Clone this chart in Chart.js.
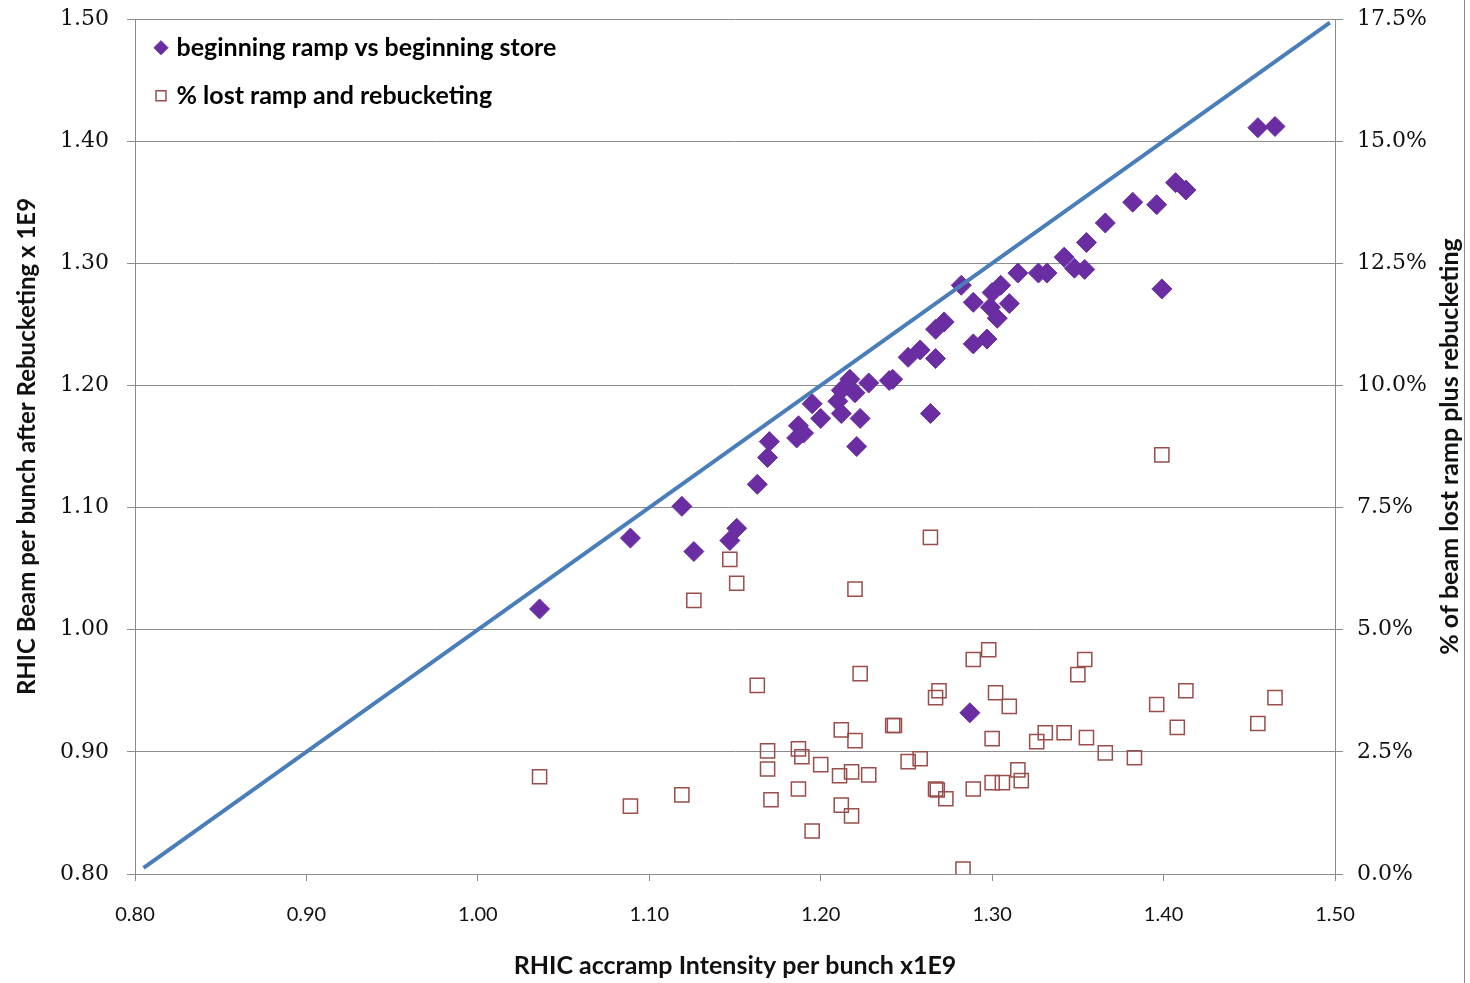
<!DOCTYPE html>
<html>
<head>
<meta charset="utf-8">
<script src="https://cdn.jsdelivr.net/npm/chart.js@4.4.1/dist/chart.umd.min.js"></script>
<style>
  html, body { margin: 0; padding: 0; background: #fff; }
  #wrap { position: relative; width: 1470px; height: 983px; }
  #edge { position: absolute; left: 1464px; top: 0; width: 1px; height: 983px; background: #8c8c8c; }
</style>
</head>
<body>
<div id="wrap"><canvas id="chart"></canvas><div id="edge"></div></div>
<script>
// beginning ramp (x) vs beginning store (y), x1E9
const rampX = [1.036, 1.089, 1.119, 1.126, 1.147, 1.151, 1.163, 1.169, 1.170, 1.186, 1.187, 1.190, 1.195, 1.200, 1.210,
  1.212, 1.212, 1.217, 1.220, 1.221, 1.223, 1.228, 1.240, 1.242, 1.251, 1.258, 1.264, 1.267, 1.267, 1.272, 1.282,
  1.289, 1.289, 1.297, 1.299, 1.300, 1.305, 1.303, 1.310, 1.315, 1.327, 1.332, 1.342, 1.348, 1.354, 1.355, 1.366,
  1.382, 1.396, 1.399, 1.407, 1.413, 1.455, 1.465, 1.287];
const storeY = [1.017, 1.075, 1.101, 1.064, 1.073, 1.083, 1.119, 1.141, 1.154, 1.157, 1.167, 1.161, 1.185, 1.173, 1.187,
  1.196, 1.177, 1.205, 1.194, 1.150, 1.173, 1.202, 1.204, 1.205, 1.223, 1.229, 1.177, 1.222, 1.246, 1.252, 1.282,
  1.234, 1.268, 1.238, 1.264, 1.276, 1.282, 1.255, 1.267, 1.292, 1.292, 1.292, 1.305, 1.296, 1.295, 1.317, 1.333,
  1.350, 1.348, 1.279, 1.366, 1.360, 1.411, 1.412, 0.932];

// % lost ramp and rebucketing (right axis)
const lossX = [1.036, 1.089, 1.119, 1.126, 1.147, 1.151, 1.163, 1.169, 1.169, 1.171, 1.187, 1.189, 1.187, 1.195, 1.200,
  1.211, 1.212, 1.212, 1.218, 1.218, 1.220, 1.220, 1.223, 1.228, 1.242, 1.243, 1.251, 1.258, 1.264, 1.267, 1.269,
  1.267, 1.268, 1.273, 1.283, 1.289, 1.289, 1.298, 1.300, 1.300, 1.302, 1.306, 1.310, 1.315, 1.317, 1.326, 1.331,
  1.342, 1.350, 1.354, 1.355, 1.366, 1.383, 1.396, 1.399, 1.408, 1.413, 1.455, 1.465];
const lossPct = [1.99, 1.39, 1.62, 5.60, 6.44, 5.95, 3.86, 2.52, 2.15, 1.52, 2.56, 2.40, 1.74, 0.88, 2.24,
  2.01, 2.95, 1.41, 1.19, 2.09, 2.73, 5.83, 4.10, 2.03, 3.04, 3.04, 2.30, 2.36, 6.89, 3.61, 3.75,
  1.74, 1.72, 1.54, 0.10, 4.39, 1.74, 4.59, 2.77, 1.87, 3.71, 1.87, 3.43, 2.13, 1.91, 2.71, 2.89,
  2.89, 4.08, 4.39, 2.79, 2.48, 2.38, 3.47, 8.58, 3.00, 3.75, 3.08, 3.61];

// y = x reference line
const unityLine = [0.805, 1.497];

const COLOR_TEXT = "#111";
const COLOR_GRID = "#8c8c8c";
const TITLE_FONT = { family: "Lato, sans-serif", size: 25, weight: "bold" };
const SERIF_TICKS = { family: "DejaVu Serif, serif", size: 22 };

// fixed axis boxes so the plot sits where it does in the original
function fitY(s) {
  s.width = 135;
  s.paddingTop = 0;
  s.paddingBottom = 0;
}

const rightTitle = {
  id: "rightTitle",
  afterDraw(chart, args, opts) {
    const { ctx, chartArea } = chart;
    const scale = chart.scales.y2;
    ctx.save();
    ctx.translate(scale.right - 20, (chartArea.top + chartArea.bottom) / 2);
    ctx.rotate(-Math.PI / 2);
    ctx.font = "bold 25px Lato, sans-serif";
    ctx.fillStyle = COLOR_TEXT;
    ctx.textAlign = "center";
    ctx.textBaseline = "middle";
    ctx.fillText(opts.text, 0, 0);
    ctx.restore();
  },
};

new Chart(document.getElementById("chart"), {
  type: "scatter",
  data: {
    datasets: [
      {
        label: "beginning ramp vs beginning store",
        data: rampX.map((x, i) => ({ x, y: storeY[i] })),
        yAxisID: "y",
        pointStyle: "rectRot",
        pointRadius: 10,
        backgroundColor: "#6a2ea2",
        borderColor: "#6a2ea2",
        borderWidth: 1,
        order: 1,
      },
      {
        label: "% lost ramp and rebucketing",
        data: lossX.map((x, i) => ({ x, y: lossPct[i] })),
        yAxisID: "y2",
        pointStyle: "rect",
        pointRadius: 10,
        backgroundColor: "rgba(0,0,0,0)",
        borderColor: "#9a4d4a",
        borderWidth: 1.5,
        order: 2,
      },
      {
        label: "unity",
        data: unityLine.map((v) => ({ x: v, y: v })),
        yAxisID: "y",
        showLine: true,
        pointRadius: 0,
        borderColor: "#4a7ebb",
        borderWidth: 4,
        order: 0,
      },
    ],
  },
  options: {
    responsive: true,
    maintainAspectRatio: false,
    animation: false,
    layout: { padding: { top: 19, left: 0, right: 0, bottom: 0 } },
    scales: {
      x: {
        min: 0.8,
        max: 1.5,
        afterFit: (s) => { s.height = 109; s.paddingLeft = 0; s.paddingRight = 0; },
        border: { color: COLOR_GRID },
        grid: { drawOnChartArea: false, color: COLOR_GRID, tickLength: 7 },
        ticks: {
          stepSize: 0.1,
          padding: 22,
          color: COLOR_TEXT,
          font: { family: "Lato, sans-serif", size: 20 },
          callback: (v) => v.toFixed(2),
        },
        title: {
          display: true,
          text: "RHIC accramp Intensity per bunch x1E9",
          color: COLOR_TEXT,
          font: TITLE_FONT,
          padding: { top: 0, bottom: 2 },
        },
      },
      y: {
        position: "left",
        min: 0.8,
        max: 1.5,
        afterFit: fitY,
        border: { color: COLOR_GRID },
        grid: { color: COLOR_GRID, tickLength: 8 },
        ticks: {
          stepSize: 0.1,
          padding: 18,
          color: COLOR_TEXT,
          font: SERIF_TICKS,
          callback: (v) => v.toFixed(2),
        },
        title: {
          display: true,
          text: "RHIC Beam per bunch after Rebucketing x 1E9",
          color: COLOR_TEXT,
          font: { ...TITLE_FONT, size: 24 },
          padding: { top: 13, bottom: 0 },
        },
      },
      y2: {
        position: "right",
        min: 0,
        max: 17.5,
        afterFit: fitY,
        border: { color: COLOR_GRID },
        grid: { drawOnChartArea: false, color: COLOR_GRID, tickLength: 8 },
        ticks: {
          stepSize: 2.5,
          padding: 14,
          color: COLOR_TEXT,
          font: SERIF_TICKS,
          callback: (v) => v.toFixed(1) + "%",
        },
      },
    },
    plugins: {
      legend: {
        position: "chartArea",
        align: "start",
        title: { display: true, text: " ", font: { size: 1 }, padding: { top: 11, bottom: 0 } },
        labels: {
          usePointStyle: true,
          boxWidth: 6,
          boxHeight: 10,
          padding: 23,
          color: "#000",
          font: { family: "Lato, sans-serif", size: 25, weight: "bold" },
          filter: (item) => item.text !== "unity",
        },
      },
      tooltip: { enabled: false },
      rightTitle: { text: "% of beam lost ramp plus rebucketing" },
    },
  },
  plugins: [rightTitle],
});
</script>
</body>
</html>
